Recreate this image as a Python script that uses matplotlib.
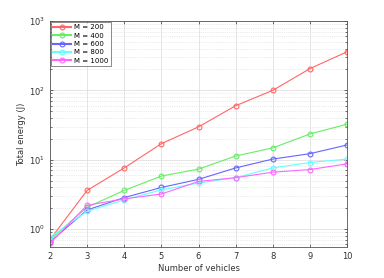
import matplotlib
matplotlib.use('Agg')
import matplotlib.pyplot as plt

# number of vehicles
vehicles = [2, 3, 4, 5, 6, 7, 8, 9, 10]

# total energy (J) per M
e_200 = [0.70, 3.6, 7.6, 17.0, 29.7, 60.0, 100.0, 206.0, 360.0]
e_400 = [0.70, 2.06, 3.6, 5.8, 7.3, 11.3, 14.8, 23.5, 32.5]
e_600 = [0.65, 1.88, 2.84, 3.97, 5.2, 7.6, 10.2, 12.2, 16.3]
e_800 = [0.76, 1.8, 2.63, 3.67, 4.6, 5.5, 7.6, 9.1, 10.2]
e_1000 = [0.62, 2.2, 2.72, 3.2, 4.85, 5.5, 6.6, 7.2, 8.7]

labels = ['M = 200', 'M = 400', 'M = 600', 'M = 800', 'M = 1000']
colors = ['#ff6666', '#66ee66', '#6666ff', '#66ffff', '#ff66ff']

fig = plt.figure(figsize=(3.84, 2.78), dpi=100)
ax = fig.add_axes([0.130, 0.1115, 0.774, 0.813])

for ys, lab, c in zip([e_200, e_400, e_600, e_800, e_1000], labels, colors):
   ax.plot(vehicles, ys, color=c, lw=0.8, marker='o', ms=3.5,
           mfc='none', mec=c, mew=0.8, label=lab)

ax.set_yscale('log')
ax.set_xlim(2, 10)
ax.set_ylim(0.55, 1000)
ax.set_xticks(vehicles)

ax.grid(True, which='major', color='#e0e0e0', lw=0.6)
ax.grid(True, which='minor', color='#d8d8d8', lw=0.5, ls=':')
ax.set_axisbelow(True)
ax.tick_params(labelsize=6, colors='#333333', length=2, width=0.5, direction='in')
ax.tick_params(which='minor', length=1.5, width=0.4, direction='in')
ax.tick_params(top=True, right=True, which='both')
for s in ax.spines.values():
   s.set_color('#555555')
   s.set_linewidth(0.6)

ax.set_xlabel('Number of vehicles', fontsize=6, color='#333333', labelpad=2)
ax.set_ylabel('Total energy (J)', fontsize=6, color='#333333', labelpad=2)

leg = ax.legend(loc='upper left', fontsize=5, frameon=True, fancybox=False,
                edgecolor='#555555', borderpad=0.35, labelspacing=0.35,
                handlelength=2.6, handletextpad=0.4, borderaxespad=0.1)
leg.get_frame().set_linewidth(0.6)
for ln in leg.get_lines():
   ln.set_linewidth(1.5)

fig.savefig('out.png', dpi=100)
